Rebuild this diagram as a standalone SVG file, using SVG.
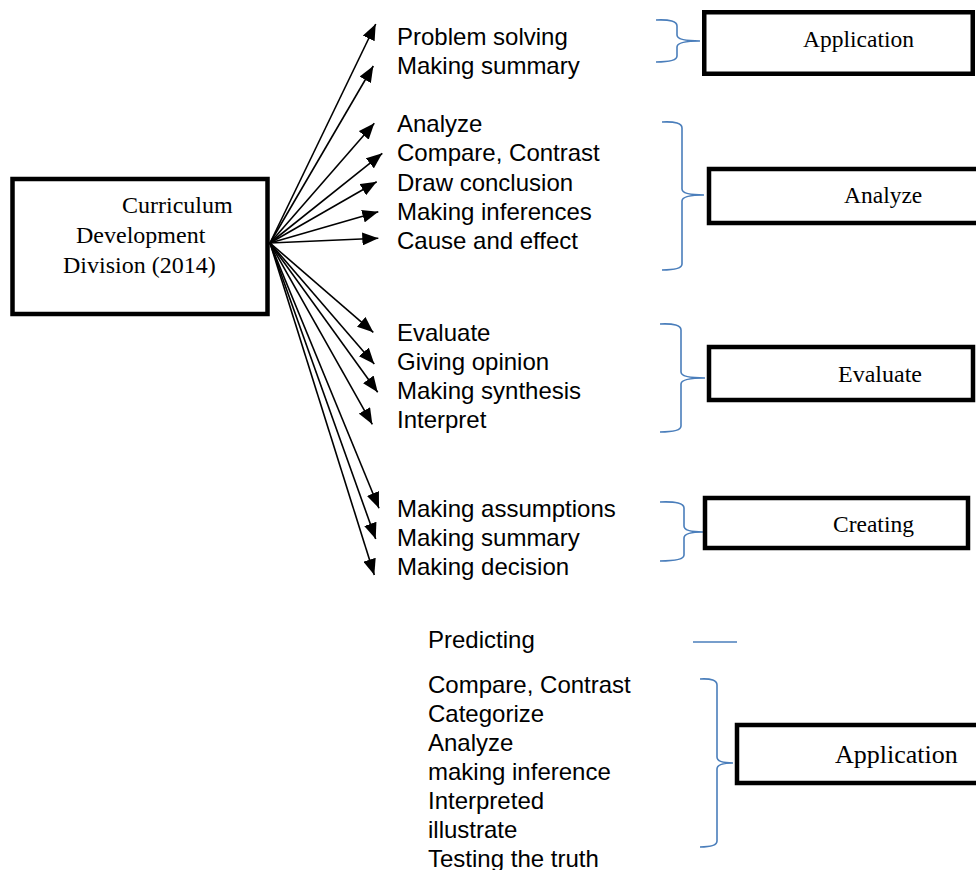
<svg xmlns="http://www.w3.org/2000/svg" width="976" height="870" viewBox="0 0 976 870">
<style>
.box{fill:#fff;stroke:#000;stroke-width:4.5}
.serif{font-family:"Liberation Serif","Times New Roman",serif;fill:#000}
.item{font-family:"Liberation Sans",Arial,sans-serif;font-size:24px;fill:#000}
.brace{fill:none;stroke:#4a7ebb;stroke-width:1.6}
.arr{stroke:#000;stroke-width:1.6;fill:none;marker-end:url(#ah)}
</style>
<defs>
<marker id="ah" markerUnits="userSpaceOnUse" markerWidth="17" markerHeight="13" refX="16" refY="6.5" orient="auto">
<path d="M0,0 L16,6.5 L0,13 z" fill="#000"/>
</marker>
</defs>
<rect width="976" height="870" fill="#fff"/>

<g id="curriculum">
<rect class="box" x="12.5" y="179" width="255" height="135"/>
<text class="serif" font-size="24" x="122" y="213">Curriculum</text>
<text class="serif" font-size="24" x="76" y="243">Development</text>
<text class="serif" font-size="24" x="63" y="273">Division (2014)</text>
</g>

<g id="connectors">
<line class="arr" x1="270" y1="243" x2="375.7" y2="24"/>
<line class="arr" x1="270" y1="243" x2="373.3" y2="66"/>
<line class="arr" x1="270" y1="243" x2="374.3" y2="123.3"/>
<line class="arr" x1="270" y1="243" x2="382.3" y2="153.3"/>
<line class="arr" x1="270" y1="243" x2="376.7" y2="181.7"/>
<line class="arr" x1="270" y1="243" x2="378.3" y2="211.7"/>
<line class="arr" x1="270" y1="243" x2="378.3" y2="238.3"/>
<line class="arr" x1="270" y1="243" x2="373.3" y2="332.3"/>
<line class="arr" x1="270" y1="243" x2="374.3" y2="364"/>
<line class="arr" x1="270" y1="243" x2="377.7" y2="392.3"/>
<line class="arr" x1="270" y1="243" x2="372.3" y2="424.3"/>
<line class="arr" x1="270" y1="243" x2="379" y2="508.3"/>
<line class="arr" x1="270" y1="243" x2="375.7" y2="539"/>
<line class="arr" x1="270" y1="243" x2="374.3" y2="575"/>
</g>

<g id="list-application">
<text class="item" x="397" y="45">Problem solving</text>
<text class="item" x="397" y="74">Making summary</text>
</g>
<g id="list-analyze">
<text class="item" x="397" y="132">Analyze</text>
<text class="item" x="397" y="161.3">Compare, Contrast</text>
<text class="item" x="397" y="190.5">Draw conclusion</text>
<text class="item" x="397" y="219.8">Making inferences</text>
<text class="item" x="397" y="249">Cause and effect</text>
</g>
<g id="list-evaluate">
<text class="item" x="397" y="341">Evaluate</text>
<text class="item" x="397" y="370">Giving opinion</text>
<text class="item" x="397" y="399">Making synthesis</text>
<text class="item" x="397" y="428">Interpret</text>
</g>
<g id="list-creating">
<text class="item" x="397" y="517">Making assumptions</text>
<text class="item" x="397" y="546">Making summary</text>
<text class="item" x="397" y="575">Making decision</text>
</g>
<g id="list-predicting">
<text class="item" x="428" y="648">Predicting</text>
</g>
<g id="list-application2">
<text class="item" x="428" y="692.5">Compare, Contrast</text>
<text class="item" x="428" y="721.5">Categorize</text>
<text class="item" x="428" y="750.5">Analyze</text>
<text class="item" x="428" y="779.5">making inference</text>
<text class="item" x="428" y="808.5">Interpreted</text>
<text class="item" x="428" y="837.5">illustrate</text>
<text class="item" x="428" y="866.5">Testing the truth</text>
</g>

<g id="braces">
<path class="brace" d="M656,20 Q677,19 677,26 L677,35 Q677,41 700,41 Q677,41 677,47 L677,56 Q677,62 656,62"/>
<path class="brace" d="M662,122 Q682,121 682,128 L682,189 Q682,195 704,195 Q682,195 682,201 L682,264 Q682,270 662,270"/>
<path class="brace" d="M660,324 Q681,323 681,330 L681,372 Q681,378 705,378 Q681,378 681,384 L681,426 Q681,432 660,432"/>
<path class="brace" d="M660,502 Q684,501 684,508 L684,526 Q684,532 703,532 Q684,532 684,538 L684,555 Q684,561 660,561"/>
<line class="brace" x1="693" y1="642" x2="737" y2="642"/>
<path class="brace" d="M700,679 Q717,678 717,685 L717,757 Q717,763 733,763 Q717,763 717,769 L717,841 Q717,847 700,847"/>
</g>

<g id="box-application">
<rect class="box" x="704.25" y="12.25" width="268.5" height="61.5"/>
<text class="serif" font-size="23.5" x="803" y="47">Application</text>
</g>
<g id="box-analyze">
<rect class="box" x="709" y="169" width="280" height="54"/>
<text class="serif" font-size="23.5" x="844" y="203">Analyze</text>
</g>
<g id="box-evaluate">
<rect class="box" x="709" y="347" width="264" height="53"/>
<text class="serif" font-size="24" x="838" y="382">Evaluate</text>
</g>
<g id="box-creating">
<rect class="box" x="705" y="498" width="263" height="50"/>
<text class="serif" font-size="23.5" x="833" y="532">Creating</text>
</g>
<g id="box-application2">
<rect class="box" x="737" y="725" width="260" height="58"/>
<text class="serif" font-size="26" x="835" y="763">Application</text>
</g>
</svg>
